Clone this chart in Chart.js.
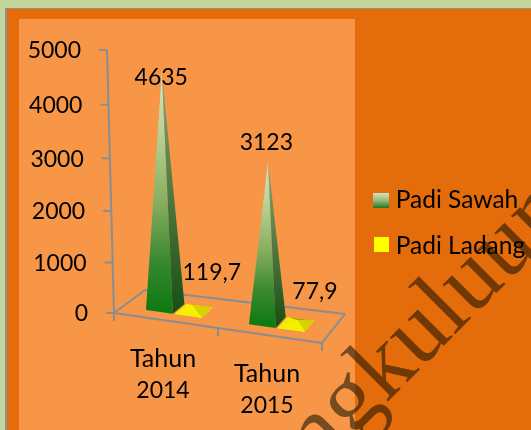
<!DOCTYPE html>
<html><head><meta charset="utf-8">
<style>
html,body{margin:0;padding:0;background:#C3D69B;overflow:hidden}
#page{position:relative;width:531px;height:430px;overflow:hidden}
.gray{position:absolute;left:5px;top:8px;right:-5px;bottom:-5px;background:#8C9090}
.dark{position:absolute;left:7px;top:9px;right:-5px;bottom:-5px;background:#E46C0A}
.light{position:absolute;left:19px;top:19px;width:336px;bottom:-5px;background:#F79646}
#wm{position:absolute;left:254px;top:462px;font:96px "Liberation Serif",serif;color:rgba(15,15,0,.55);white-space:nowrap;transform-origin:0 100%;transform:rotate(-45deg);line-height:1}
canvas{position:absolute;left:0;top:0}
</style>
<script src="https://cdn.jsdelivr.net/npm/chart.js@4"></script>
</head><body><div id="page">
<div class="gray"></div><div class="dark"></div><div class="light"></div>
<div id="wm">Bengkuluun</div>
<canvas id="c" width="531" height="430"></canvas>
</div>
<script>
const categories = [["Tahun","2014"],["Tahun","2015"]];
const padiSawah = [4635,3123];
const padiLadang = [119.7,77.9];
const yTicks = [0,1000,2000,3000,4000,5000];
const seriesNames = ["Padi Sawah","Padi Ladang"];

const FONT = '23px Lato';
const WORD_FONT = '25px Lato';
const AXIS = '#8A8D92';
const ctxMain = document.getElementById('c').getContext('2d');
const swatch = ctxMain.createLinearGradient(0,193,0,208);
swatch.addColorStop(0,'#D5E3BF');swatch.addColorStop(.5,'#98B878');swatch.addColorStop(1,'#1F7A1C');

function floor(chart,x,d){
  const a=chart.chartArea, t=(x-a.left)/(a.right-a.left);
  return [x+d*(31-8*t), a.bottom+(x-a.left)*.144-d*(23+6*t)];
}
function poly(c,pts,fill){c.beginPath();pts.forEach((p,i)=>i?c.lineTo(p[0],p[1]):c.moveTo(p[0],p[1]));c.closePath();c.fillStyle=fill;c.fill();}
const G_FRONT=[[0,'#D8E6C4'],[.3,'#B3CC8E'],[.55,'#86AE5E'],[.8,'#37882F'],[1,'#0E7A12']];
const G_SIDE=[[0,'#8FA67C'],[.3,'#6B8A50'],[.6,'#47703A'],[1,'#154F14']];
function grad(c,y0,y1,stops){const g=c.createLinearGradient(0,y0,0,y1);stops.forEach(s=>g.addColorStop(s[0],s[1]));return g;}
const pyramids={
 id:'pyramids',
 afterLayout(chart){
  const L=chart.legend;
  L.width=182;L.left=351;L.right=533;
  L.top+=1.5;L.bottom+=1.5;
 },
 afterDraw(chart){
  const c=chart.ctx;
  c.fillStyle=swatch;c.fillRect(373,193,16,15);
  c.fillStyle='#FFFF00';c.fillRect(374,237,15,15);
 },
 afterDatasetsDraw(chart){
  const c=chart.ctx,a=chart.chartArea,ys=chart.scales.y;
  c.save();
  c.strokeStyle=AXIS;c.lineWidth=2;
  const axisY=v=>{const h=ys.getPixelForValue(0)-ys.getPixelForValue(v);return a.bottom-h*(.95+.05*h/(a.bottom-a.top));};
  const axisX=v=>a.left-7*(ys.getPixelForValue(0)-ys.getPixelForValue(v))/(a.bottom-a.top);
  const line=(x0,y0,x1,y1)=>{c.beginPath();c.moveTo(x0,y0);c.lineTo(x1,y1);c.stroke();};
  line(axisX(ys.max),axisY(ys.max),a.left,a.bottom);
  ys.ticks.forEach(t=>line(axisX(t.value)-8,axisY(t.value),axisX(t.value),axisY(t.value)));
  const fl=floor(chart,a.left,0),fr=floor(chart,a.right,0),bl=floor(chart,a.left,1),br=floor(chart,a.right,1);
  line(fl[0],fl[1],fr[0],fr[1]);line(fl[0],fl[1],bl[0],bl[1]);line(bl[0],bl[1],br[0],br[1]);line(br[0],br[1],fr[0],fr[1]);
  [a.left,(a.left+a.right)/2,a.right].forEach(x=>{const p=floor(chart,x,0);line(p[0],p[1],p[0],p[1]+8);});
  const unit=(ys.getPixelForValue(0)-ys.getPixelForValue(1000))/1000*.968;
  const D0=.27,D1=.67;
  [1,0].forEach(ds=>{
   const meta=chart.getDatasetMeta(ds);
   meta.data.forEach((el,i)=>{
    const v=chart.data.datasets[ds].data[i],w=el.width*.93;
    const l=el.x-w/2,r=el.x+w/2;
    const fL=floor(chart,l,D0),fR=floor(chart,r,D0),bL=floor(chart,l,D1),bR=floor(chart,r,D1);
    const cx=(fL[0]+bR[0])/2,cy=(fL[1]+bR[1])/2;
    const top=[cx+(cx-250)*.04,cy-v*unit];
    if(ds===0){
     poly(c,[fL,fR,top],grad(c,top[1],fL[1],G_FRONT));
     poly(c,[fR,bR,top],grad(c,top[1],fR[1],G_SIDE));
    }else{
     poly(c,[bL,bR,fR,fL],'#FFFF00');
     poly(c,[bL,bR,top],'#A8A000');
     poly(c,[bR,fR,top],'#D6D200');
     poly(c,[fL,fR,top],'#F5F000');
     poly(c,[bL,fL,top],'#F0EC00');
    }
   });
  });
  c.fillStyle='#000';c.font=FONT;c.textBaseline='middle';
  c.textAlign='right';
  ys.ticks.forEach(t=>c.fillText(String(t.value),axisX(t.value)-26,axisY(t.value)+1));
  c.textAlign='center';
  const xs=chart.scales.x;
  categories.forEach((lines,i)=>{
   const x=xs.getPixelForValue(i),y=floor(chart,x,0)[1];
   lines.forEach((s,j)=>{c.font=j?FONT:WORD_FONT;c.fillText(s,x-3,y+38.5+j*32);});
  });
  c.font=FONT;
  const labelShift=[[[-4,7],[-1,-19]],[[18,-32],[19,-29]]];
  [0,1].forEach(ds=>{
   chart.getDatasetMeta(ds).data.forEach((el,i)=>{
    const v=chart.data.datasets[ds].data[i],w=el.width*.93;
    const fL=floor(chart,el.x-w/2,D0),bR=floor(chart,el.x+w/2,D1);
    const cx=(fL[0]+bR[0])/2,cy=(fL[1]+bR[1])/2;
    const s=labelShift[ds][i];
    c.fillText(String(v).replace('.',','),cx+s[0],cy-v*unit+s[1]);
   });
  });
  c.restore();
 }
};
new Chart(ctxMain,{
 type:'bar',
 data:{labels:categories,datasets:[
  {label:seriesNames[0],data:padiSawah,backgroundColor:'rgba(0,0,0,0)',categoryPercentage:.56,barPercentage:1},
  {label:seriesNames[1],data:padiLadang,backgroundColor:'rgba(0,0,0,0)',categoryPercentage:.56,barPercentage:1}]},
 options:{
  responsive:false,animation:false,
  layout:{padding:{left:0,right:0,top:50,bottom:36}},
  plugins:{tooltip:{enabled:false},
   legend:{position:'right',labels:{boxWidth:11,boxHeight:16,padding:21.5,color:'#000',font:{family:'Lato',size:24.5},
    generateLabels:()=>[
     {text:seriesNames[0],fillStyle:'rgba(0,0,0,0)',lineWidth:0,strokeStyle:'rgba(0,0,0,0)',datasetIndex:0},
     {text:seriesNames[1],fillStyle:'rgba(0,0,0,0)',lineWidth:0,strokeStyle:'rgba(0,0,0,0)',datasetIndex:1}]}}},
  scales:{
   x:{grid:{display:false},border:{display:false},ticks:{display:false},afterFit(s){s.height=81;}},
   y:{min:0,max:5000,grid:{display:false},border:{display:false},ticks:{display:false,stepSize:1000},afterFit(s){s.width=114;}},
   y2:{position:'right',min:0,max:1,grid:{display:false},border:{display:false},ticks:{display:false},afterFit(s){s.width=120.5;}}
  }
 },
 plugins:[pyramids]
});
</script></body></html>
